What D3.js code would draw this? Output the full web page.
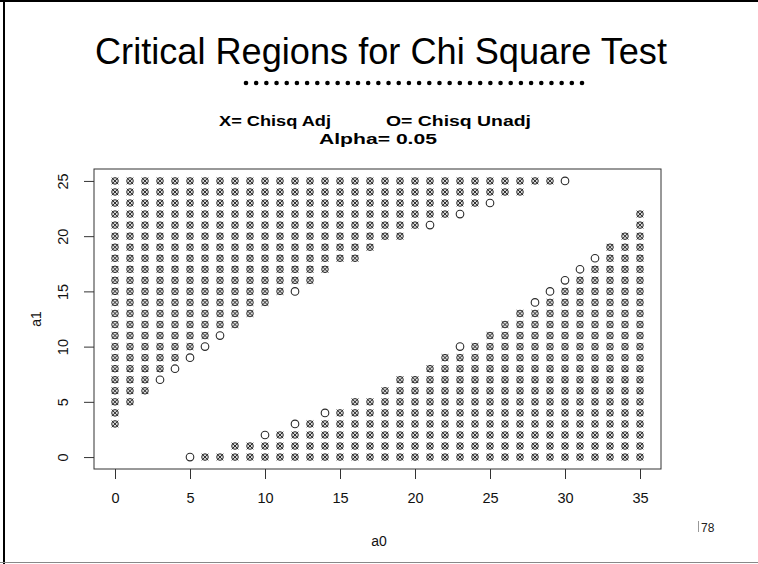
<!DOCTYPE html>
<html>
<head>
<meta charset="utf-8">
<script src="https://cdn.jsdelivr.net/npm/d3@7"></script>
<style>
  html, body { margin: 0; padding: 0; background: #fff; }
  svg { display: block; }
  text { font-family: "Liberation Sans", Arial, Helvetica, sans-serif; }
</style>
</head>
<body>
<svg id="chart" width="758" height="564"></svg>
<script>
// a0 values (columns of the grid)
const a0Values = d3.range(0, 36);

// Upper critical region: lowest a1 rejected by each test (null = none)
const adjUpperMin   = [3,5,6,8,9,10,11,12,12,13,14,15,16,16,17,18,18,19,20,20,21,22,22,23,23,24,24,24,25,25,null,null,null,null,null,null];
const unadjUpperMin = [3,5,6,7,8,9,10,11,12,13,14,15,15,16,17,18,18,19,20,20,21,21,22,22,23,23,24,24,25,25,25,null,null,null,null,null];

// Lower critical region: highest a1 rejected by each test (null = none)
const adjLowerMax   = [null,null,null,null,null,null,0,0,1,1,1,2,2,3,3,4,5,5,6,7,7,8,9,9,10,11,12,13,13,14,15,16,17,19,20,22];
const unadjLowerMax = [null,null,null,null,null,0,0,0,1,1,2,2,3,3,4,4,5,5,6,7,7,8,9,10,10,11,12,13,14,15,16,17,18,19,20,22];

const a1Max = 25;
const xTicks = [0, 5, 10, 15, 20, 25, 30, 35];
const yTicks = [0, 5, 10, 15, 20, 25];

// Build point lists for each test from the region bounds
function regionPoints(upperMin, lowerMax) {
  const pts = [];
  a0Values.forEach((a0, i) => {
    if (upperMin[i] !== null) for (let a1 = upperMin[i]; a1 <= a1Max; a1++) pts.push({a0, a1});
    if (lowerMax[i] !== null) for (let a1 = 0; a1 <= lowerMax[i]; a1++) pts.push({a0, a1});
  });
  return pts;
}
const adjPoints = regionPoints(adjUpperMin, adjLowerMax);
const unadjPoints = regionPoints(unadjUpperMin, unadjLowerMax);
const adjKeys = new Set(adjPoints.map(p => p.a0 + "," + p.a1));
const isAdj = d => adjKeys.has(d.a0 + "," + d.a1);

const svg = d3.select("#chart");

// Slide frame
svg.append("line").attr("x1", 0).attr("x2", 758).attr("y1", 1).attr("y2", 1)
  .attr("stroke", "#000").attr("stroke-width", 2);
svg.append("line").attr("x1", 4).attr("x2", 4).attr("y1", 0).attr("y2", 564)
  .attr("stroke", "#000").attr("stroke-width", 2);
svg.append("line").attr("x1", 0).attr("x2", 758).attr("y1", 562.5).attr("y2", 562.5)
  .attr("stroke", "#888").attr("stroke-width", 1);

// Slide title
svg.append("text").attr("x", 95).attr("y", 64)
  .attr("font-size", 36).attr("fill", "#000")
  .attr("textLength", 572).attr("lengthAdjust", "spacingAndGlyphs")
  .text("Critical Regions for Chi Square Test");

// Dotted rule under the title
const dotScale = d3.scaleLinear().domain([0, 33]).range([246, 582]);
svg.append("g").selectAll("circle").data(d3.range(0, 34)).join("circle")
  .attr("cx", d => dotScale(d)).attr("cy", 83).attr("r", 2.3).attr("fill", "#000");

// Plot title lines
const sub = svg.append("g").attr("font-weight", "bold").attr("font-size", 15.5).attr("fill", "#000");
sub.append("text").attr("x", 219).attr("y", 126)
  .attr("textLength", 112).attr("lengthAdjust", "spacingAndGlyphs").text("X= Chisq Adj");
sub.append("text").attr("x", 386).attr("y", 126)
  .attr("textLength", 145).attr("lengthAdjust", "spacingAndGlyphs").text("O= Chisq Unadj");
sub.append("text").attr("x", 319).attr("y", 144)
  .attr("textLength", 118).attr("lengthAdjust", "spacingAndGlyphs").text("Alpha= 0.05");

// Plot region (R-style 4% padding on the scales)
const plotL = 94, plotR = 661, plotT = 169, plotB = 469;
const x = d3.scaleLinear().domain([-1.4, 36.4]).range([plotL, plotR]);
const y = d3.scaleLinear().domain([-1.08, 26.08]).range([plotB, plotT]);

// Plot box
svg.append("rect").attr("x", plotL).attr("y", plotT).attr("width", plotR - plotL).attr("height", plotB - plotT)
  .attr("fill", "none").attr("stroke", "#333").attr("stroke-width", 1);

// Axes
const xAxis = svg.append("g").attr("transform", `translate(0,${plotB})`)
  .call(d3.axisBottom(x).tickValues(xTicks).tickSize(10).tickPadding(14).tickFormat(d3.format("d")));
xAxis.select(".domain").remove();
xAxis.selectAll("line").attr("stroke", "#333");
xAxis.selectAll("text").attr("font-size", 14.5).attr("fill", "#111")
  .attr("font-family", "'Liberation Sans', Arial, sans-serif");

const yAxis = svg.append("g").attr("transform", `translate(${plotL},0)`)
  .call(d3.axisLeft(y).tickValues(yTicks).tickSize(10).tickFormat(d3.format("d")));
yAxis.select(".domain").remove();
yAxis.selectAll("line").attr("stroke", "#333");
yAxis.selectAll("text").attr("font-size", 14.5).attr("fill", "#111")
  .attr("font-family", "'Liberation Sans', Arial, sans-serif")
  .attr("text-anchor", "middle").attr("x", null)
  .attr("transform", "translate(-31,0) rotate(-90)")
  .attr("dy", "0.35em");

// Axis titles
svg.append("text").attr("x", 379).attr("y", 546).attr("text-anchor", "middle")
  .attr("font-size", 14).attr("fill", "#111").text("a0");
svg.append("text").attr("transform", `translate(41,${(plotT + plotB) / 2}) rotate(-90)`)
  .attr("text-anchor", "middle").attr("font-size", 14).attr("fill", "#111").text("a1");

// Points: circles for the unadjusted test (shaded where the adjusted test also rejects)
svg.append("g").selectAll("circle").data(unadjPoints).join("circle")
  .attr("cx", d => x(d.a0)).attr("cy", d => y(d.a1))
  .attr("r", d => isAdj(d) ? 3.3 : 3.8)
  .attr("fill", d => isAdj(d) ? "#dcdcdc" : "none")
  .attr("stroke", "#2a2a2a").attr("stroke-width", d => isAdj(d) ? 1 : 1.1);

// Points: crosses for the adjusted test, reaching the corners of the marker box
const s = 3.3;
svg.append("g").selectAll("path").data(adjPoints).join("path")
  .attr("d", d => {
    const cx = x(d.a0), cy = y(d.a1);
    return `M${cx - s},${cy - s}L${cx + s},${cy + s}M${cx - s},${cy + s}L${cx + s},${cy - s}`;
  })
  .attr("stroke", "#2a2a2a").attr("stroke-width", 1).attr("fill", "none");

// Slide number
svg.append("line").attr("x1", 698.5).attr("x2", 698.5).attr("y1", 521).attr("y2", 532)
  .attr("stroke", "#999").attr("stroke-width", 1);
svg.append("text").attr("x", 701).attr("y", 532).attr("font-size", 12).attr("fill", "#222").text("78");
</script>
</body>
</html>
